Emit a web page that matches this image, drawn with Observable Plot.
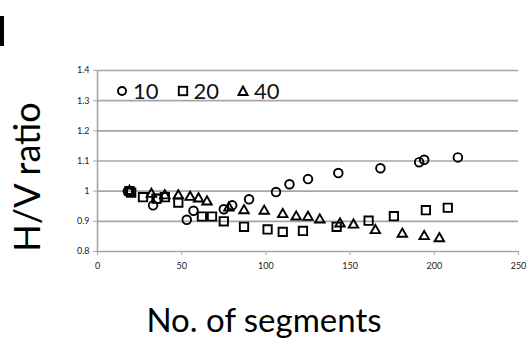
<!DOCTYPE html>
<html>
<head>
<meta charset="utf-8">
<script src="https://cdn.jsdelivr.net/npm/d3@7"></script>
<script src="https://cdn.jsdelivr.net/npm/@observablehq/plot@0.6"></script>
<style>
  html, body { margin: 0; padding: 0; background: #fff; }
  #wrap { position: relative; width: 531px; height: 358px; overflow: hidden; font-family: Lato, "Open Sans", sans-serif; }
  #bar { position: absolute; left: 0; top: 16px; width: 4px; height: 30px; background: #000; }
  #legend { position: absolute; left: 116px; top: 80px; display: flex; align-items: center; font-size: 22px; color: #111; line-height: 1; }
  #legend span.item { display: inline-flex; align-items: center; margin-right: 18px; }
  #legend svg { margin-right: 5px; }
</style>
</head>
<body>
<div id="wrap">
  <div id="bar"></div>
  <div id="legend"></div>
</div>
<script>
// ---- data ----
const seriesNames = ["10", "20", "40"];
const seg10 = [18, 33, 36, 53, 57, 75, 80, 90, 106, 114, 125, 143, 168, 191, 194, 214];
const hv10  = [1.0, 0.953, 0.975, 0.905, 0.935, 0.94, 0.953, 0.973, 0.997, 1.023, 1.04, 1.06, 1.076, 1.096, 1.104, 1.112];
const seg20 = [19, 20, 27, 35, 40, 48, 62, 68, 75, 87, 101, 110, 122, 142, 161, 176, 195, 208];
const hv20  = [1.0, 0.995, 0.98, 0.975, 0.98, 0.962, 0.916, 0.916, 0.9, 0.882, 0.873, 0.865, 0.868, 0.882, 0.902, 0.917, 0.937, 0.945];
const seg40 = [19, 32, 40, 48, 55, 60, 65, 78, 87, 99, 110, 118, 125, 132, 144, 152, 165, 181, 194, 203];
const hv40  = [1.0, 0.99, 0.985, 0.985, 0.98, 0.975, 0.965, 0.945, 0.936, 0.934, 0.923, 0.915, 0.914, 0.905, 0.892, 0.888, 0.87, 0.858, 0.85, 0.843];
const xTicks = [0, 50, 100, 150, 200, 250];
const yTicks = [0.8, 0.9, 1.0, 1.1, 1.2, 1.3, 1.4];
const xLabel = "No. of segments";
const yLabel = "H/V ratio";

const toRows = (xs, ys) => xs.map((x, i) => ({x, y: ys[i]}));
const d10 = toRows(seg10, hv10), d20 = toRows(seg20, hv20), d40 = toRows(seg40, hv40);

const dotStyle = {x: "x", y: "y", r: 4.3, stroke: "#000", strokeWidth: 1.9, fill: "none"};

const chart = Plot.plot({
  width: 531,
  height: 358,
  marginLeft: 97,
  marginRight: 13,
  marginTop: 70,
  marginBottom: 107,
  style: {fontFamily: "Lato, 'Open Sans', sans-serif", background: "transparent", overflow: "visible"},
  x: {domain: [0, 250]},
  y: {domain: [0.8, 1.4]},
  marks: [
    Plot.ruleY(yTicks, {stroke: "#a6a6a6", strokeWidth: 1.6}),
    Plot.ruleX([0], {stroke: "#a6a6a6", strokeWidth: 1.6}),
    Plot.axisY({ticks: yTicks, tickSize: 4, tickPadding: 4, fontSize: 9, stroke: "#a6a6a6", fill: "#222", label: null,
      tickFormat: d => String(+d.toFixed(1))}),
    Plot.axisX({ticks: xTicks, tickSize: 4, tickPadding: 7, fontSize: 9, stroke: "#a6a6a6", fill: "#222", label: null}),
    Plot.dot(d40, {...dotStyle, symbol: "triangle", r: 3.5}),
    Plot.dot(d20, {...dotStyle, symbol: "square", r: 4.7}),
    Plot.dot(d10, {...dotStyle, symbol: "circle"}),
    Plot.text([yLabel], {frameAnchor: "left", textAnchor: "middle", dx: -69, dy: 16, rotate: -90, fontSize: 36, fill: "#000", fontFamily: "Lato, sans-serif"}),
    Plot.text([xLabel], {frameAnchor: "bottom", dx: -44, dy: 80, fontSize: 33, fill: "#000", fontFamily: "Lato, sans-serif"})
  ]
});
document.getElementById("wrap").appendChild(chart);

// legend
const legend = document.getElementById("legend");
const shapes = {
  "10": '<circle cx="6" cy="6" r="4" fill="none" stroke="#000" stroke-width="1.9"/>',
  "20": '<rect x="1.8" y="1.8" width="8.4" height="8.4" fill="none" stroke="#000" stroke-width="1.9"/>',
  "40": '<polygon points="6,1.5 10.5,10 1.5,10" fill="none" stroke="#000" stroke-width="1.9"/>'
};
seriesNames.forEach(n => {
  const s = document.createElement("span");
  s.className = "item";
  s.innerHTML = `<svg width="12" height="12">${shapes[n]}</svg>${n}`;
  legend.appendChild(s);
});
</script>
</body>
</html>
